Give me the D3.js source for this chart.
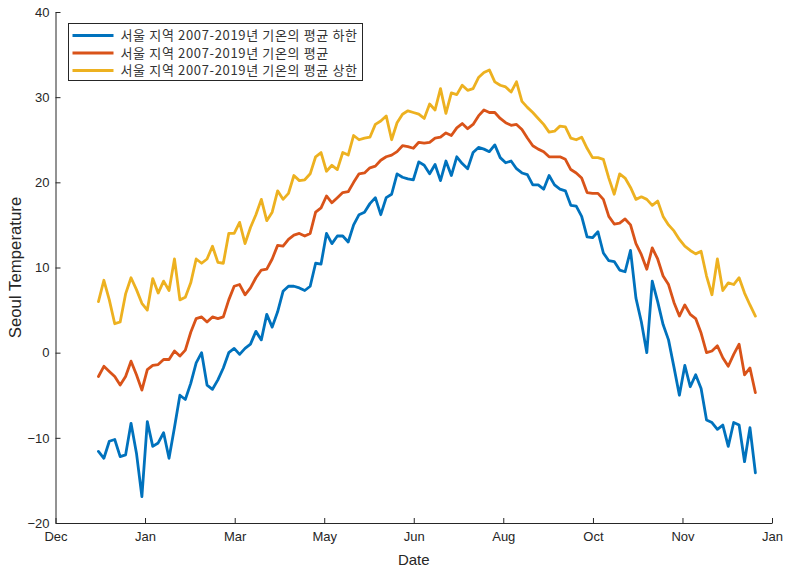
<!DOCTYPE html>
<html><head><meta charset="utf-8">
<script src="https://cdn.jsdelivr.net/npm/d3@7"></script>
<style>body{margin:0;background:#fff;} svg{display:block;}</style>
</head><body>
<svg id="chart" width="788" height="568"></svg>
<script>
// ---- data ----
const seriesNames = [
  "서울 지역 2007-2019년 기온의 평균 하한",
  "서울 지역 2007-2019년 기온의 평균",
  "서울 지역 2007-2019년 기온의 평균 상한"
];
const seriesColors = ["#0072BD", "#D95319", "#EDB120"];

const lowTemps = [
-11.6,-12.4,-10.4,-10.2,-12.2,-12.0,-8.3,-11.8,-16.9,-8.1,
-11.0,-10.6,-9.4,-12.4,-8.8,-5.0,-5.5,-3.6,-1.2,0.0,
-3.8,-4.3,-3.2,-1.8,0.0,0.5,-0.2,0.5,1.0,2.5,
1.5,4.5,3.0,4.8,7.2,7.8,7.8,7.6,7.3,7.8,
10.5,10.4,14.0,12.8,13.7,13.7,13.0,15.0,16.2,16.5,
17.5,18.2,16.2,18.2,18.6,21.0,20.6,20.4,20.3,22.4,
22.0,21.0,22.1,20.2,22.5,20.8,23.0,22.2,21.6,23.5,
24.1,23.9,23.6,24.4,22.9,22.3,22.5,21.6,21.1,20.9,
19.7,19.7,19.2,20.8,19.7,19.2,19.0,17.3,17.2,16.0,
13.6,13.5,14.2,11.7,10.8,10.7,9.7,9.5,12.0,6.4,
3.6,0.0,8.4,6.0,3.3,1.5,-1.7,-5.0,-1.5,-4.0,
-2.6,-4.2,-7.9,-8.2,-9.0,-8.5,-11.0,-8.2,-8.5,-12.8,
-8.8,-14.1
];
const meanTemps = [
-2.8,-1.6,-2.2,-2.8,-3.8,-2.8,-1.0,-2.6,-4.4,-2.0,
-1.5,-1.4,-0.8,-0.8,0.2,-0.4,0.3,2.4,4.0,4.2,
3.6,4.2,4.0,4.2,6.2,7.8,8.0,6.8,7.6,8.8,
9.7,9.8,11.0,12.6,12.5,13.3,13.8,14.0,13.7,14.0,
16.5,17.0,18.4,17.6,18.2,18.8,18.9,20.0,21.0,21.1,
21.7,21.9,22.6,23.0,23.2,23.6,24.3,24.2,24.0,24.7,
24.6,24.7,25.2,25.3,25.8,25.5,26.4,26.9,26.3,26.8,
27.8,28.5,28.2,28.2,27.5,27.0,26.7,26.8,26.2,25.2,
24.3,23.9,23.6,23.0,23.0,23.0,22.7,21.5,21.1,20.5,
18.8,18.7,18.7,18.0,16.0,15.1,15.2,15.7,15.0,12.8,
11.5,9.8,12.3,11.0,9.0,8.0,5.9,4.3,5.6,4.5,
4.0,2.3,0.0,0.2,0.8,-0.6,-1.6,-0.2,1.0,-2.6,
-1.8,-4.7
];
const highTemps = [
6.0,8.5,6.2,3.4,3.6,6.9,8.8,7.4,5.8,5.0,
8.7,7.0,8.4,7.3,11.0,6.2,6.5,8.2,11.0,10.5,
11.0,12.5,10.6,10.5,14.0,14.0,15.3,12.8,14.7,16.2,
18.0,15.5,16.5,19.0,18.0,18.7,20.8,20.2,20.3,21.0,
23.0,23.5,21.3,22.0,21.5,23.5,23.2,25.5,25.0,25.2,
25.3,26.8,27.2,27.8,25.0,27.0,28.0,28.4,28.2,28.0,
27.5,29.2,28.5,31.0,28.1,30.5,30.3,31.4,30.8,31.0,
32.3,32.9,33.2,31.8,31.4,31.2,30.6,31.8,29.5,28.8,
28.2,27.5,26.8,25.9,26.0,26.6,26.5,25.2,25.0,25.3,
24.0,22.9,22.9,22.7,20.5,18.6,21.0,20.5,19.4,18.0,
18.3,18.0,17.3,17.8,16.0,15.0,14.3,13.3,12.5,12.0,
11.6,11.9,9.0,6.8,11.0,7.3,8.2,8.0,8.8,7.0,
5.6,4.3
];
// day of year of first and last sample (samples evenly spaced)
const firstDay = 0, lastDay = 364;
const xDomain = [-23.8, 373.2];
const xTickDays = [-23.8, 25.8, 75.5, 125.1, 174.7, 224.3, 274.0, 323.6, 373.2];
const xTickLabels = ["Dec", "Jan", "Mar", "May", "Jun", "Aug", "Oct", "Nov", "Jan"];
const yTicks = [-20, -10, 0, 10, 20, 30, 40];
const yDomain = [-20, 40];
const xTitle = "Date";
const yTitle = "Seoul Temperature";

// ---- drawing ----
const svg = d3.select("#chart");
const plotLeft = 55.5, plotRight = 772, plotTop = 12, plotBottom = 523;
const x = d3.scaleLinear().domain(xDomain).range([plotLeft, plotRight]);
const y = d3.scaleLinear().domain(yDomain).range([plotBottom, plotTop]);
const axisColor = "#262626";
const tickFont = "'Liberation Sans', Arial, sans-serif";

const allSeries = [lowTemps, meanTemps, highTemps];
const n = lowTemps.length;
const days = d3.range(n).map(i => firstDay + i * (lastDay - firstDay) / (n - 1));

const line = d3.line().x((d, i) => x(days[i])).y(d => y(d));

const plot = svg.append("g");
allSeries.forEach((s, k) => {
  plot.append("path").datum(s)
    .attr("d", line)
    .attr("fill", "none")
    .attr("stroke", seriesColors[k])
    .attr("stroke-width", 2.8)
    .attr("stroke-linejoin", "round")
    .attr("stroke-linecap", "round");
});

// axes
const yAxis = d3.axisLeft(y).tickValues(yTicks).tickSizeInner(-5).tickSizeOuter(0).tickPadding(6);
const gy = svg.append("g").attr("transform", `translate(${plotLeft},0)`).call(yAxis);
const xAxis = d3.axisBottom(x).tickValues(xTickDays).tickFormat((d, i) => xTickLabels[i])
  .tickSizeInner(-5).tickSizeOuter(0).tickPadding(9);
const gx = svg.append("g").attr("transform", `translate(0,${plotBottom})`).call(xAxis);
[gx, gy].forEach(g => {
  g.select(".domain").attr("stroke", axisColor).attr("stroke-width", 1);
  g.selectAll(".tick line").attr("stroke", axisColor).attr("stroke-width", 1);
  g.selectAll(".tick text").attr("fill", axisColor).style("font-family", tickFont).style("font-size", "13px");
});

svg.append("text").attr("x", (plotLeft + plotRight) / 2).attr("y", 565)
  .attr("text-anchor", "middle").attr("fill", axisColor)
  .style("font-family", tickFont).style("font-size", "15px").text(xTitle);
svg.append("text").attr("transform", `translate(21,${(plotTop + plotBottom) / 2}) rotate(-90)`)
  .attr("text-anchor", "middle").attr("fill", axisColor)
  .style("font-family", tickFont).style("font-size", "16.8px").text(yTitle);

// legend
const lg = svg.append("g").attr("transform", "translate(68.5,23.5)");
lg.append("rect").attr("width", 294).attr("height", 57)
  .attr("fill", "#fff").attr("stroke", axisColor).attr("stroke-width", 1);
seriesNames.forEach((name, k) => {
  const yy = 12 + k * 17.5;
  lg.append("line").attr("x1", 4).attr("x2", 45).attr("y1", yy).attr("y2", yy)
    .attr("stroke", seriesColors[k]).attr("stroke-width", 2.8);
  lg.append("text").attr("x", 52).attr("y", yy).attr("dy", "0.36em")
    .attr("fill", "#333")
    .style("font-family", "'Noto Sans CJK KR', sans-serif").style("font-size", "13px")
    .style("letter-spacing", "0.65px")
    .text(name);
});
</script>
</body></html>
